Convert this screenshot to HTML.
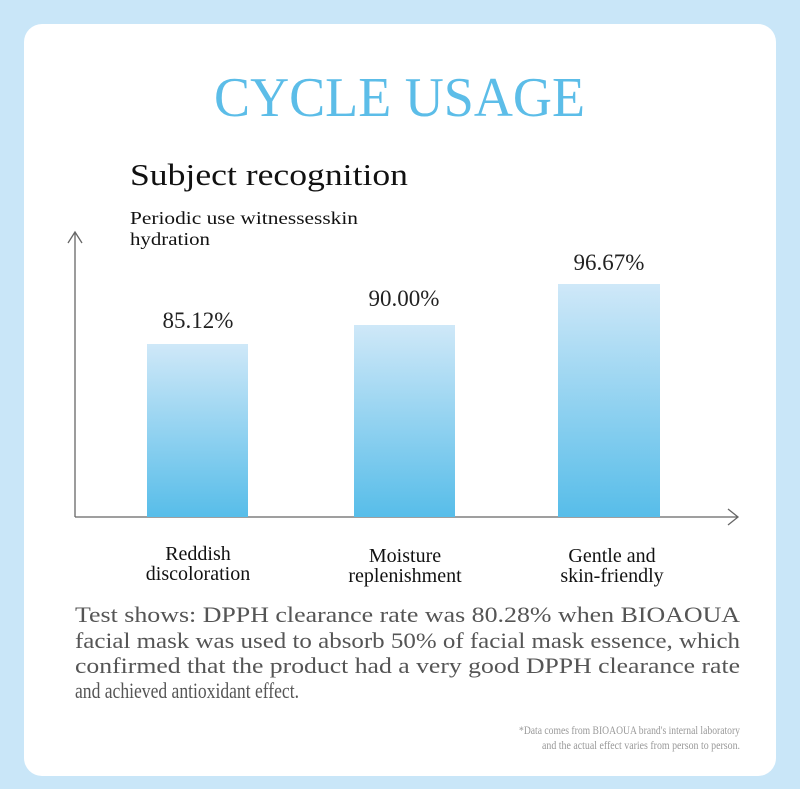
<!DOCTYPE html>
<html><head><style>
html,body{margin:0;padding:0;background:#c9e6f8;}
svg{display:block;}
</style></head><body>
<svg width="800" height="789" viewBox="0 0 800 789" xmlns="http://www.w3.org/2000/svg">
<defs>
<linearGradient id="g" x1="0" y1="0" x2="0" y2="1">
<stop offset="0" stop-color="#cfe8f8"/>
<stop offset="1" stop-color="#57bde9"/>
</linearGradient>
</defs>
<rect width="800" height="789" fill="#c9e6f8"/>
<rect x="24" y="24" width="752" height="752" rx="18" fill="#fff"/>
<g font-family="Liberation Serif, serif">
<text x="214" y="116" font-size="56" fill="#5cbde8" textLength="371" lengthAdjust="spacingAndGlyphs">CYCLE USAGE</text>
<text x="130" y="185" font-size="31" fill="#111" textLength="278" lengthAdjust="spacingAndGlyphs">Subject recognition</text>
<text x="130" y="224" font-size="18" fill="#111" textLength="228" lengthAdjust="spacingAndGlyphs">Periodic use witnessesskin</text>
<text x="130" y="245" font-size="18" fill="#111" textLength="80" lengthAdjust="spacingAndGlyphs">hydration</text>
<g stroke="#666" stroke-width="1.3" fill="none">
<path d="M75 517V232M68 243L75 232L82 243"/>
<path d="M75 517H738M728 509L738 517L728 525"/>
</g>
<rect x="147" y="344" width="101" height="173" fill="url(#g)"/>
<rect x="354" y="325" width="101" height="192" fill="url(#g)"/>
<rect x="558" y="284" width="102" height="233" fill="url(#g)"/>
<g font-size="23" fill="#222" text-anchor="middle">
<text x="198" y="328">85.12%</text>
<text x="404" y="306">90.00%</text>
<text x="609" y="270">96.67%</text>
</g>
<g font-size="20" fill="#111" text-anchor="middle">
<text x="198" y="560">Reddish</text>
<text x="198" y="580">discoloration</text>
<text x="405" y="562">Moisture</text>
<text x="405" y="582">replenishment</text>
<text x="612" y="562">Gentle and</text>
<text x="612" y="582">skin-friendly</text>
</g>
<g font-size="22" fill="#555">
<text x="75" y="622" textLength="665" lengthAdjust="spacingAndGlyphs">Test shows: DPPH clearance rate was 80.28% when BIOAOUA</text>
<text x="75" y="648" textLength="665" lengthAdjust="spacingAndGlyphs">facial mask was used to absorb 50% of facial mask essence, which</text>
<text x="75" y="673" textLength="665" lengthAdjust="spacingAndGlyphs">confirmed that the product had a very good DPPH clearance rate</text>
<text x="75" y="698" textLength="224" lengthAdjust="spacingAndGlyphs">and achieved antioxidant effect.</text>
</g>
<g font-size="12" fill="#999" text-anchor="end">
<text x="740" y="734" textLength="221" lengthAdjust="spacingAndGlyphs">*Data comes from BIOAOUA brand's internal laboratory</text>
<text x="740" y="749" textLength="198" lengthAdjust="spacingAndGlyphs">and the actual effect varies from person to person.</text>
</g>
</g>
</svg>
</body></html>
